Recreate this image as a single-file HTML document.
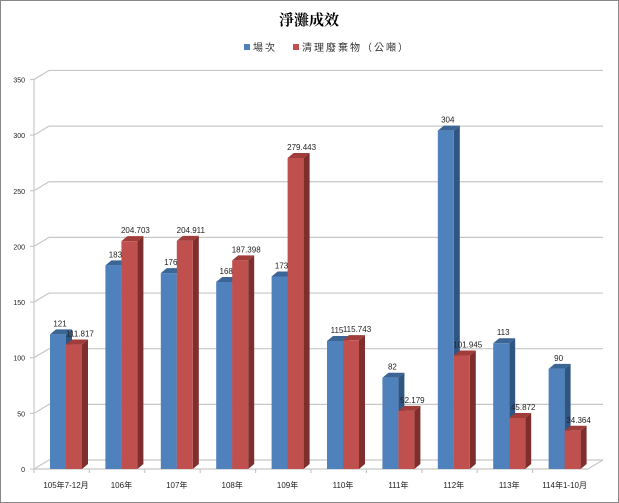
<!DOCTYPE html>
<html><head><meta charset="utf-8"><style>body{margin:0;background:#fff}svg{display:block}</style></head><body>
<svg width="619" height="503" xmlns="http://www.w3.org/2000/svg" font-family="Liberation Sans, 'Noto Sans CJK TC', sans-serif">
<rect x="0.5" y="0.5" width="618" height="502" fill="#fff" stroke="#888"/>
<text x="309" y="25" text-anchor="middle" font-size="15" font-weight="bold" font-family="'Noto Serif CJK SC','Noto Sans CJK TC',serif">淨灘成效</text>
<rect x="244" y="44" width="6" height="6" fill="#4f81bd"/>
<text x="253" y="51" font-size="10" fill="#333" letter-spacing="2">場次</text>
<rect x="293" y="44" width="6" height="6" fill="#c0504d"/>
<text x="302" y="51" font-size="10" fill="#333" letter-spacing="2">清理廢棄物（公噸）</text>
<g id="grid" stroke="#c8c8c8" stroke-width="1.2" fill="none"></g>
<g id="bars"></g>
<g id="labels" font-size="8" fill="#222"></g>
<script>
var ns="http://www.w3.org/2000/svg";
function el(p,t,a,txt){var e=document.createElementNS(ns,t);for(var k in a)e.setAttribute(k,a[k]);if(txt)e.textContent=txt;document.getElementById(p).appendChild(e);return e;}
var k=1.113,y0=469,dx=15,dy=9;
for(var v=0;v<=350;v+=50){var yf=y0-v*k;
 el("grid","polyline",{points:"34,"+yf+" "+(34+dx)+","+(yf-dy)+" 603,"+(yf-dy)});
 el("grid","line",{x1:30,y1:yf,x2:34,y2:yf});
 el("labels","text",{x:25,y:yf+3,"text-anchor":"end","font-size":"7"},String(v));}
el("grid","line",{x1:34,y1:y0-350*k,x2:34,y2:y0});
el("grid","polyline",{points:"34,469 588,469 603,460"});
var cats=["105年7-12月","106年","107年","108年","109年","110年","111年","112年","113年","114年1-10月"];
var b=[121,183,176,168,173,115,82,304,113,90];
var r=["111.817","204.703","204.911","187.398","279.443","115.743","52.179","101.945","45.872","34.364"];
for(var i=0;i<10;i++){
 var x=50+55.4*i;
 el("grid","line",{x1:34+55.4*i,y1:469,x2:34+55.4*i,y2:473});
 el("labels","text",{x:x+16,y:488,"text-anchor":"middle"},cats[i]);
 [[x,b[i],"#4f81bd","#3a6594","#2f5582",String(b[i]),10],[x+16,parseFloat(r[i]),"#c0504d","#a03c39","#7e2e2c",r[i],14]].forEach(function(s){
  var bx=s[0],h=s[1]*k,top=y0-h;
  el("bars","polygon",{points:(bx+16)+","+top+" "+(bx+22)+","+(top-5)+" "+(bx+22)+","+(y0-5)+" "+(bx+16)+","+y0,fill:s[4]});
  el("bars","polygon",{points:bx+","+top+" "+(bx+6)+","+(top-5)+" "+(bx+22)+","+(top-5)+" "+(bx+16)+","+top,fill:s[3]});
  el("bars","rect",{x:bx,y:top,width:16,height:h,fill:s[2]});
  el("labels","text",{x:bx+s[6],y:top-8,"text-anchor":"middle"},s[5]);
 });
}
</script>
</svg>
</body></html>
